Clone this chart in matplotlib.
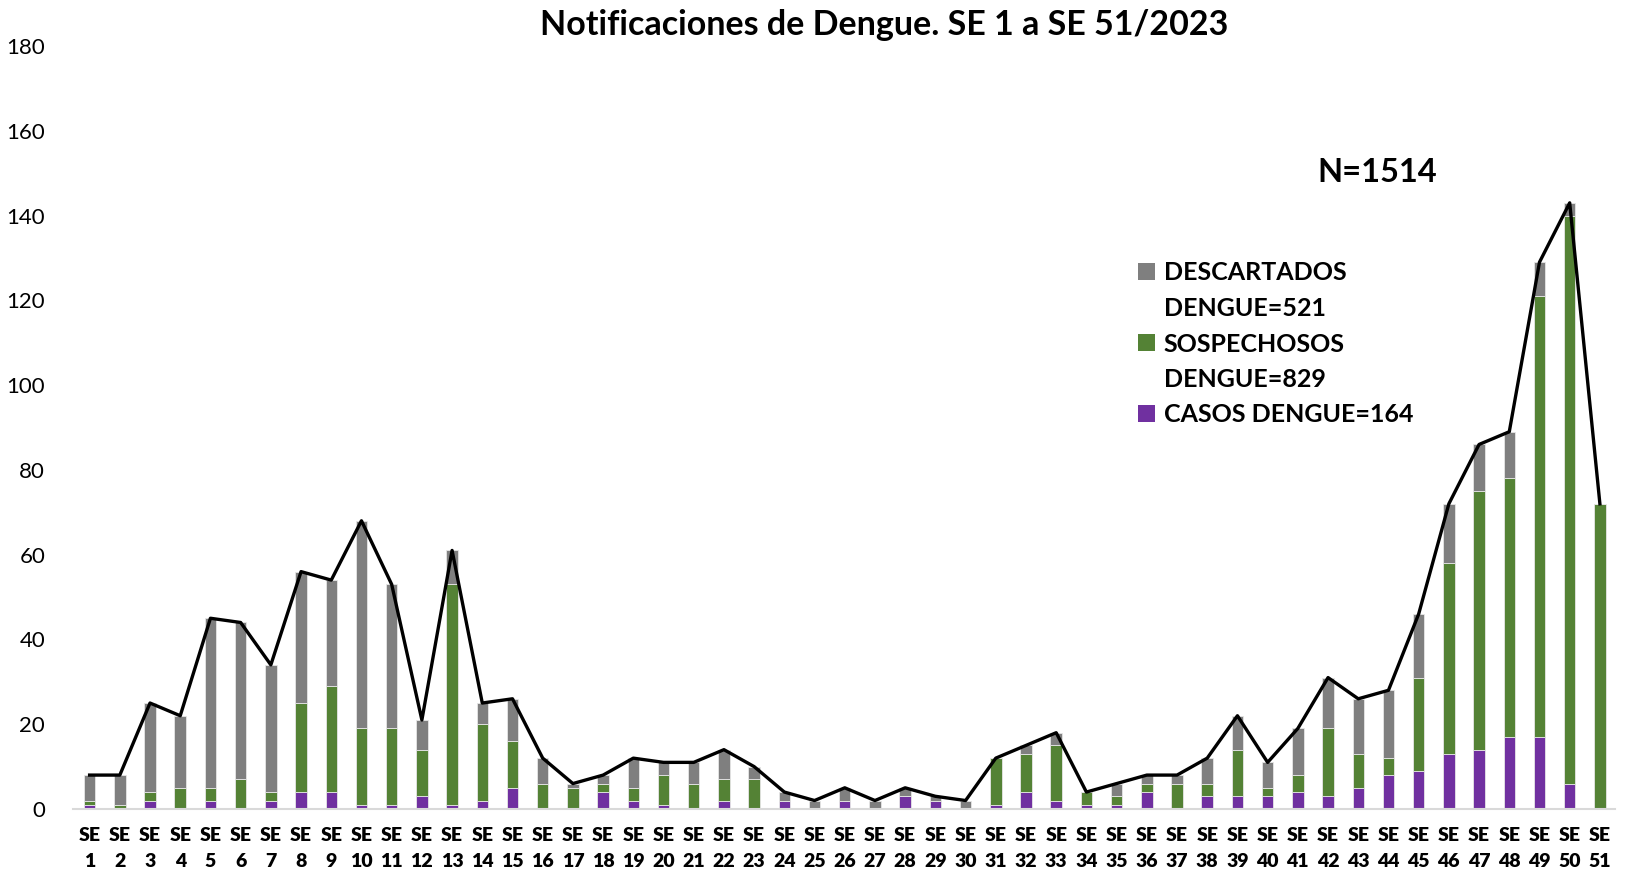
import matplotlib
matplotlib.use("Agg")
import matplotlib.pyplot as plt
from matplotlib.patches import Patch
import numpy as np

plt.rcParams['font.family'] = ['Lato', 'DejaVu Sans']

# datos por semana epidemiologica
semanas = ["SE\n" + str(i) for i in range(1, 52)]
casos = [1, 0, 2, 0, 2, 0, 2, 4, 4, 1, 1, 3, 1, 2, 5, 0, 0, 4, 2, 1, 0, 2, 0, 2, 0, 2,
         0, 3, 2, 0, 1, 4, 2, 1, 1, 4, 0, 3, 3, 3, 4, 3, 5, 8, 9, 13, 14, 17, 17, 6, 0]
sospechosos = [1, 1, 2, 5, 3, 7, 2, 21, 25, 18, 18, 11, 52, 18, 11, 6, 5, 2, 3, 7, 6, 5, 7, 0, 0, 0,
               0, 0, 0, 0, 11, 9, 13, 3, 2, 2, 6, 3, 11, 2, 4, 16, 8, 4, 22, 45, 61, 61, 104, 134, 72]
descartados = [6, 7, 21, 17, 40, 37, 30, 31, 25, 49, 34, 7, 8, 5, 10, 6, 1, 2, 7, 3, 5, 7, 3, 2, 2, 3,
               2, 2, 1, 2, 0, 2, 3, 0, 3, 2, 2, 6, 8, 6, 11, 12, 13, 16, 15, 14, 11, 11, 8, 3, 0]
etiquetas = ["DESCARTADOS\nDENGUE=521", "SOSPECHOSOS\nDENGUE=829", "CASOS DENGUE=164"]
colores = ["#7f7f7f", "#548235", "#7030a0"]

casos = np.array(casos)
sospechosos = np.array(sospechosos)
descartados = np.array(descartados)
total = casos + sospechosos + descartados
x = np.arange(len(semanas))

fig = plt.figure(figsize=(16.34, 8.71), dpi=100)
ax = fig.add_axes([73/1634, 62/871, (1615-73)/1634, (809-46)/871])

w = 0.38
ax.bar(x, casos, w, color=colores[2], edgecolor='#e6e6e6', linewidth=0.6, zorder=2)
ax.bar(x, sospechosos, w, bottom=casos, color=colores[1], edgecolor='#e6e6e6', linewidth=0.6, zorder=2)
ax.bar(x, descartados, w, bottom=casos+sospechosos, color=colores[0], edgecolor='#e6e6e6', linewidth=0.6, zorder=2)
ax.plot(x, total, color='black', linewidth=2.4, zorder=3)

ax.set_xlim(-0.55, 50.5)
ax.set_ylim(0, 180)
ax.set_yticks(range(0, 181, 20))
ax.set_xticks(x)
ax.set_xticklabels(semanas, fontsize=14, fontweight='heavy', linespacing=1.65)
ax.tick_params(axis='both', length=0)
ax.tick_params(axis='x', pad=13)
ax.tick_params(axis='y', pad=20, labelsize=16)
for s in ['top', 'right', 'left']:
    ax.spines[s].set_visible(False)
ax.spines['bottom'].set_color('#d9d9d9')
ax.spines['bottom'].set_linewidth(1.5)

fig.text(884/1634, 1 - 35/871, "Notificaciones de Dengue. SE 1 a SE 51/2023",
         ha='center', va='baseline', fontsize=24.5, fontweight='bold')
ax.text(1377/1634, 1 - 172/871, "N=1514", transform=fig.transFigure,
        ha='center', va='center', fontsize=23.5, fontweight='bold')

# leyenda: cuadro solo en la primera linea de cada etiqueta
handles = []
labels = []
for lab, col in zip(etiquetas, colores):
    partes = lab.split("\n")
    handles.append(Patch(facecolor=col))
    labels.append(partes[0])
    for p in partes[1:]:
        handles.append(Patch(facecolor='none', edgecolor='none'))
        labels.append(p)
leg = fig.legend(handles, labels, loc='upper left', bbox_to_anchor=(1125/1634, 1 - 249/871),
                 frameon=False, prop={'weight': 'bold', 'size': 18}, handlelength=0.7,
                 handleheight=0.7, handletextpad=0.35, labelspacing=0.5, borderpad=0)

fig.savefig("out.png", dpi=100)
